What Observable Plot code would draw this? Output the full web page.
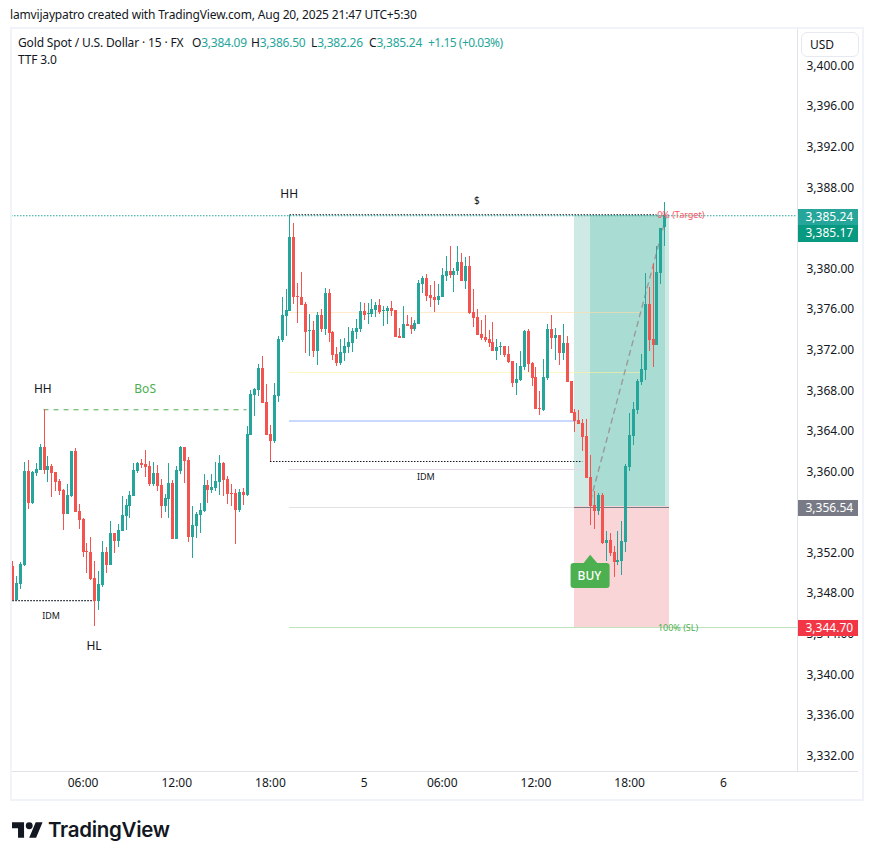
<!DOCTYPE html>
<html><head><meta charset="utf-8">
<script src="https://cdn.jsdelivr.net/npm/d3@7"></script>
<script src="https://cdn.jsdelivr.net/npm/@observablehq/plot@0.6"></script>
<style>
html,body{margin:0;padding:0;background:#fff;}
body{font-family:"Noto Sans",sans-serif;color:#131722;width:873px;height:859px;position:relative;overflow:hidden;}
#title{height:27px;line-height:29px;padding-left:10px;font-size:12px;color:#131722;letter-spacing:-.167px;}
#chart{position:relative;height:771px;}
#chart svg{display:block;}
#frame{position:absolute;left:10px;top:27px;width:850px;height:770px;border:2px solid #f0f3fa;box-sizing:content-box;pointer-events:none;}
.legend{position:absolute;left:18px;font-size:12px;white-space:nowrap;letter-spacing:-.15px;}
.legend span{color:#26a69a;letter-spacing:-.25px;}
.legend span.chg{letter-spacing:-.5px;}
.legend b{font-weight:400;position:absolute;top:0;}
#usd{position:absolute;left:801px;top:32px;width:56px;height:23px;border:1px solid #e6e9f0;border-radius:6px;font-size:12px;line-height:24px;text-indent:8px;background:#fff;}
#logo{position:absolute;left:12px;top:817px;display:flex;align-items:center;gap:5px;}
#logo span{font-family:Inter,sans-serif;font-weight:600;font-size:20.5px;color:#131722;letter-spacing:-.3px;}
</style></head><body>
<div id="title">lamvijaypatro created with TradingView.com, Aug 20, 2025 21:47 UTC+5:30</div>
<div id="chart"></div>
<div id="frame"></div>
<div class="legend" style="top:34px;width:520px;height:17px">Gold Spot / U.S. Dollar · 15 · FX
<b style="left:174px">O<span>3,384.09</span></b><b style="left:233px">H<span>3,386.50</span></b><b style="left:293px">L<span>3,382.26</span></b><b style="left:351px">C<span>3,385.24</span></b><b style="left:410px"><span class="chg">+1.15 (+0.03%)</span></b></div>
<div class="legend" style="top:51px">TTF 3.0</div>
<div id="usd">USD</div>
<div id="logo"><svg width="31" height="16" viewBox="0 4 36 18"><path fill="#131722" d="M14 22H7V11H0V4h14v18zM28 22h-8l7.5-18h8L28 22z"/><circle fill="#131722" cx="20" cy="8" r="4"/></svg><span>TradingView</span></div>
<script>
const opens=[3350.67,3347.32,3348.90,3350.77,3360.03,3356.88,3359.84,3360.13,3362.40,3360.13,
3360.53,3359.93,3359.05,3358.16,3355.80,3357.57,3362.00,3356.09,3355.30,3352.15,
3352.05,3349.49,3347.22,3348.80,3352.05,3350.77,3353.92,3353.13,3354.12,3355.60,
3356.58,3357.57,3360.03,3360.82,3360.72,3360.53,3358.75,3359.84,3358.65,3356.58,
3357.27,3358.85,3353.33,3360.03,3362.40,3361.12,3353.53,3354.61,3355.70,3356.09,
3358.65,3358.16,3358.36,3358.95,3360.82,3359.24,3357.86,3357.86,3356.19,3357.96,
3357.67,3363.58,3367.53,3368.02,3370.19,3366.84,3363.68,3363.00,3367.43,3372.95,
3375.31,3375.81,3383.10,3377.28,3377.19,3376.50,3373.84,3373.93,3371.87,3375.41,
3374.03,3377.58,3373.74,3371.57,3370.68,3371.67,3372.26,3372.65,3373.74,3374.03,
3375.81,3375.51,3375.51,3375.90,3376.40,3375.81,3375.81,3376.10,3375.90,3373.34,
3373.15,3374.53,3374.43,3374.03,3374.53,3378.47,3379.06,3377.38,3377.19,3376.89,
3377.19,3379.26,3379.75,3379.36,3379.75,3380.64,3378.76,3380.24,3375.71,3375.22,
3373.54,3373.25,3373.05,3372.75,3371.87,3372.26,3372.36,3371.57,3370.88,3368.71,
3369.01,3370.29,3373.84,3370.68,3369.30,3366.25,3366.05,3369.20,3374.03,3373.15,
3373.44,3371.67,3372.65,3368.91,3365.85,3365.07,3364.77,3363.49,3359.45,3356.69,
3356.10,3357.67,3352.94,3353.24,3352.06,3351.07,3351.17,3353.04,3360.43,3363.49,
3366.05,3368.81,3369.99,3376.50,3373.05,3372.46,3379.55,3384.09];
const highs=[3351.16,3349.68,3351.06,3360.92,3361.12,3360.03,3360.82,3362.69,3366.14,3361.51,
3360.72,3359.93,3359.24,3358.26,3358.75,3362.00,3362.30,3356.78,3355.40,3352.94,
3353.53,3351.16,3350.18,3353.13,3352.54,3355.11,3353.92,3354.81,3357.57,3357.27,
3358.06,3360.82,3360.92,3361.22,3362.10,3361.02,3360.92,3360.62,3359.24,3357.77,
3360.82,3359.15,3360.53,3362.50,3362.40,3361.41,3356.58,3355.99,3356.88,3359.74,
3359.15,3359.74,3360.92,3361.61,3360.92,3359.54,3358.75,3358.26,3358.26,3358.36,
3364.47,3368.02,3368.22,3370.58,3371.37,3368.61,3364.57,3368.71,3373.34,3377.19,
3377.97,3385.27,3384.48,3378.56,3379.65,3376.69,3375.51,3374.82,3375.71,3376.00,
3378.07,3377.97,3373.84,3372.26,3373.05,3373.14,3374.23,3374.13,3375.02,3376.69,
3376.59,3376.59,3376.99,3376.69,3376.99,3376.30,3376.30,3376.79,3375.90,3374.13,
3376.30,3375.41,3375.22,3374.92,3378.86,3379.26,3379.45,3378.37,3378.76,3378.47,
3380.05,3381.23,3382.21,3380.05,3382.21,3381.52,3381.13,3381.23,3377.98,3376.00,
3374.92,3375.41,3373.93,3374.72,3373.05,3372.75,3372.36,3372.36,3370.88,3370.68,
3371.87,3373.93,3374.03,3370.78,3370.29,3367.92,3371.08,3374.52,3375.41,3374.13,
3373.44,3374.52,3373.34,3368.91,3366.15,3366.05,3365.16,3365.16,3361.61,3358.07,
3357.87,3357.87,3354.12,3353.93,3352.65,3354.12,3355.11,3360.73,3365.75,3366.84,
3369.10,3371.57,3379.55,3378.17,3380.44,3382.20,3383.99,3386.50];
const lows=[3347.32,3347.32,3348.40,3350.67,3356.29,3356.78,3359.54,3360.13,3359.74,3358.95,
3357.47,3358.06,3357.67,3354.22,3355.80,3357.47,3355.99,3354.32,3351.56,3349.98,
3349.29,3344.76,3346.33,3348.60,3349.98,3350.77,3351.95,3352.54,3354.12,3354.22,
3355.40,3357.57,3359.84,3360.33,3359.44,3358.55,3358.55,3358.06,3355.40,3355.99,
3355.40,3353.33,3353.33,3359.74,3358.85,3353.04,3351.46,3353.43,3353.92,3355.99,
3356.88,3357.86,3358.06,3357.67,3357.57,3356.78,3356.58,3352.84,3355.99,3356.68,
3357.57,3363.58,3365.46,3367.43,3366.74,3363.58,3361.02,3362.80,3366.84,3372.75,
3373.34,3375.81,3376.50,3374.62,3376.40,3371.67,3371.37,3371.27,3370.48,3373.74,
3373.44,3372.75,3370.98,3370.38,3370.48,3370.88,3371.67,3371.77,3373.05,3373.74,
3374.92,3374.52,3375.22,3375.22,3375.51,3374.33,3374.52,3375.31,3373.25,3373.15,
3373.15,3374.33,3373.54,3373.84,3374.53,3377.58,3376.79,3376.20,3375.71,3376.40,
3377.19,3378.76,3379.06,3377.68,3379.36,3378.76,3377.98,3375.51,3374.23,3373.44,
3372.95,3372.75,3372.26,3371.87,3370.98,3371.47,3371.27,3370.68,3368.32,3367.53,
3368.91,3369.99,3369.80,3368.41,3366.15,3365.56,3365.95,3369.01,3372.06,3370.98,
3370.48,3370.98,3368.81,3365.75,3363.88,3364.67,3362.01,3359.35,3354.72,3354.32,
3355.70,3352.84,3351.17,3351.66,3349.59,3350.77,3349.79,3352.05,3360.04,3362.60,
3365.65,3368.50,3369.01,3371.87,3370.29,3372.46,3378.47,3382.26];
const closes=[3347.32,3349.00,3350.87,3360.03,3356.88,3359.93,3360.23,3362.40,3360.13,3360.53,
3359.84,3358.95,3358.06,3355.80,3357.67,3362.00,3355.99,3355.20,3352.05,3352.05,
3349.39,3347.22,3348.90,3352.05,3350.77,3353.92,3353.13,3354.22,3355.70,3356.68,
3357.67,3360.13,3360.82,3360.62,3360.43,3358.75,3359.84,3358.55,3356.58,3357.37,
3358.85,3353.33,3360.13,3362.40,3361.02,3353.53,3354.71,3355.80,3356.19,3358.65,
3358.16,3358.46,3359.05,3360.82,3359.15,3357.77,3357.77,3356.19,3357.96,3357.67,
3363.68,3367.63,3368.12,3370.19,3366.74,3363.58,3363.00,3367.53,3373.05,3375.41,
3375.90,3383.10,3377.19,3377.19,3376.40,3373.74,3373.93,3371.87,3375.41,3374.03,
3377.58,3373.64,3371.47,3370.68,3371.77,3372.36,3372.75,3373.84,3374.13,3375.81,
3375.41,3375.61,3376.00,3376.40,3375.71,3375.90,3376.10,3375.81,3373.25,3373.15,
3374.53,3374.33,3374.03,3374.63,3378.57,3379.06,3377.29,3377.09,3376.89,3377.29,
3379.36,3379.75,3379.36,3379.75,3380.64,3378.76,3380.24,3375.61,3375.12,3373.44,
3373.15,3372.95,3372.65,3371.87,3372.26,3372.36,3371.47,3370.78,3368.71,3369.11,
3370.39,3373.84,3370.58,3369.20,3366.15,3366.15,3369.30,3374.03,3373.15,3373.44,
3371.67,3372.65,3368.81,3365.75,3364.97,3364.67,3363.39,3359.35,3356.59,3356.10,
3357.67,3352.94,3353.24,3351.96,3351.07,3351.27,3353.14,3360.53,3363.58,3366.15,
3368.91,3370.09,3376.50,3372.95,3372.46,3379.65,3383.99,3385.24];

const timeTicks=[18,42,66,90,110,134,158,182];
const timeLabels=["06:00","12:00","18:00","5","06:00","12:00","18:00","6"];
const priceTicks=[3332,3336,3340,3344,3348,3352,3360,3364,3368,3372,3376,3380,3388,3392,3396,3400];
const entry=3356.54, target=3385.24, stop=3344.70;
const xMin=-0.333, xMax=201, yMin=3330.47, yMax=3403.696;

const up="#26a69a", down="#f4544f";
const bars=opens.map((o,i)=>({i,o,h:highs[i],l:lows[i],c:closes[i],col:closes[i]>=o?up:down}));

// Horizontal levels: [start bar, end bar, price, colour, width, dash, opacity]
const levels=[
 [71,160.7,3375.67,"#ffdca8",1.2,null,.6],
 [71,160.7,3369.76,"#fff29a",1.2,null,.6],
 [71,144,3365.0,"#c9d8ff",2,null,1],
 [71,146,3360.2,"#e4d8e8",1.2,null,1],
 [71,144,3356.45,"#e2e2e2",1.2,null,1],
 [71,xMax,3344.7,"#bfe3bf",1,null,1],
 [143.8,168.1,3356.5,"#787b86",1,null,1],
 [8,60,3366.12,"#4caf50",1,"5,5",1],
 [0,21,3347.32,"#131722",1.2,"1.5,1.5",1],
 [66,146,3361.02,"#131722",1.2,"1.5,1.5",1],
 [71,165,3385.34,"#131722",1.2,"1.5,1.5",1],
 [xMin,xMax,target,"#26a69a",1.2,"1.5,1.5",1]
].map(([a,b,p,col,w,dash,op])=>({a,b,p,col,w,dash,op}));

const notes=[
 {x:7.7,y:3368.12,t:"HH",fs:12,c:"#131722"},
 {x:33.9,y:3368.12,t:"BoS",fs:12,c:"#4caf50"},
 {x:70.8,y:3387.34,t:"HH",fs:12,c:"#131722"},
 {x:118.9,y:3386.75,t:"$",fs:10,c:"#131722"},
 {x:20.8,y:3342.8,t:"HL",fs:12,c:"#131722"},
 {x:9.8,y:3345.75,t:"IDM",fs:9,c:"#131722"},
 {x:105.8,y:3359.45,t:"IDM",fs:9,c:"#131722"},
 {x:171.1,y:3385.27,t:"0% (Target)",fs:9,c:"#f7525f"},
 {x:170.4,y:3344.56,t:"100% (SL)",fs:9,c:"#4caf50"}
];
const zones=[
 {a:144,b:168.1,y1:entry,y2:target,f:"#cfeae4"},
 {a:147.9,b:167.1,y1:entry,y2:target,f:"#a9dcd2"},
 {a:144,b:168.1,y1:stop,y2:entry,f:"#fad5d8"}
];
const tradePath=[{x:148,y:3357.2},{x:167.3,y:3385.1}];
const buyArrow=[{x:146.2,y:3350.9},{x:148,y:3351.78},{x:150,y:3350.9}];
const badges=[
 {p:3385.24,t:"3,385.24",c:"#26a69a",dy:1},
 {p:3385.17,t:"3,385.17",c:"#089981",dy:17},
 {p:3356.54,t:"3,356.54",c:"#787b86",dy:1},
 {p:3344.70,t:"3,344.70",c:"#f23645",dy:1}
];
const badgeMarks=badges.flatMap(b=>[
 Plot.ruleY([b],{y:"p",x1:201.25,x2:216.6,stroke:"c",strokeWidth:16.5,dy:b.dy,shapeRendering:"crispEdges"}),
 Plot.text([b],{x:203.05,y:"p",text:"t",fill:"#fff",textAnchor:"start",fontSize:12,dy:b.dy})
]);

const fmt=d3.format(",.2f");
const chart=Plot.plot({
 width:873,height:771,marginLeft:11,marginRight:76,marginTop:1,marginBottom:27,
 style:{fontFamily:'"Noto Sans",sans-serif',fontSize:"12px",color:"#131722",background:"transparent",overflow:"visible"},
 x:{domain:[xMin,xMax],label:null},
 y:{domain:[yMin,yMax],label:null},
 marks:[
  Plot.rect(zones,{x1:"a",x2:"b",y1:"y1",y2:"y2",fill:"f",shapeRendering:"crispEdges"}),
  ...levels.map(l=>Plot.ruleY([l],{y:"p",x1:"a",x2:"b",stroke:"col",strokeWidth:l.w,strokeOpacity:l.op,strokeDasharray:l.dash||undefined,shapeRendering:l.dash?undefined:"crispEdges"})),
  Plot.line(tradePath,{x:"x",y:"y",stroke:"#9a9a9a",strokeWidth:1.4,strokeDasharray:"5,5"}),
  Plot.ruleX(bars,{x:"i",y1:"l",y2:"h",stroke:"col",strokeWidth:1,shapeRendering:"crispEdges"}),
  Plot.ruleX(bars,{x:"i",y1:"o",y2:"c",stroke:"col",strokeWidth:3,shapeRendering:"crispEdges"}),
  Plot.text(notes,{x:"x",y:"y",text:"t",fill:"c",fontSize:"fs"}),
  Plot.rect([{a:143,b:153,y1:3348.5,y2:3350.97}],{x1:"a",x2:"b",y1:"y1",y2:"y2",fill:"#4caf50",rx:3}),
  Plot.areaY(buyArrow,{x:"x",y1:3350.8,y2:"y",fill:"#4caf50"}),
  Plot.text([{x:147.7,y:3349.72,t:"BUY"}],{x:"x",y:"y",text:"t",fill:"#fff",fontSize:12,fontWeight:500}),
  Plot.ruleX([xMax],{stroke:"#e0e3eb",strokeWidth:1.5,shapeRendering:"crispEdges"}),
  Plot.ruleY([yMin],{stroke:"#e0e3eb",strokeWidth:1.5,x1:xMin,x2:216.6,shapeRendering:"crispEdges"}),
  Plot.axisY({anchor:"right",ticks:priceTicks,tickFormat:fmt,tickSize:0,tickPadding:9,label:null,fontSize:12,fill:"#131722"}),
  Plot.axisX({anchor:"bottom",ticks:timeTicks,tickFormat:d=>timeLabels[timeTicks.indexOf(d)],tickSize:0,tickPadding:7,label:null,fontSize:12,fill:"#131722"}),
  ...badgeMarks
 ]
});
document.getElementById("chart").appendChild(chart);
</script>
</body></html>
